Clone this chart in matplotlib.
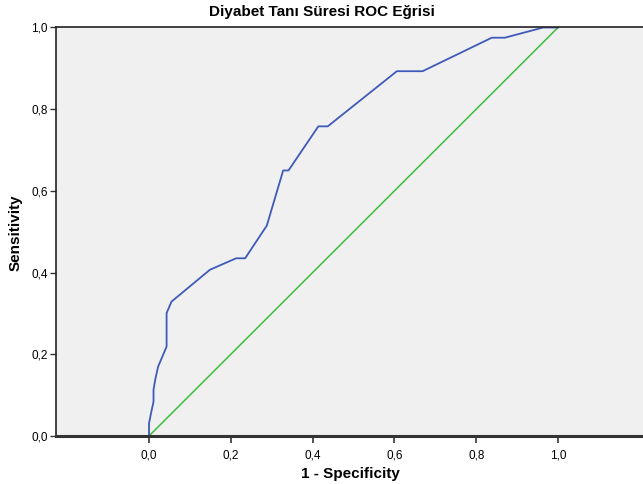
import numpy as np
import matplotlib.pyplot as plt

plt.rcParams['font.family'] = ['Liberation Sans', 'DejaVu Sans']

# ROC curve points (1 - specificity, sensitivity)
fpr = [0.0, 0.0, 0.005, 0.011, 0.011, 0.015, 0.022, 0.043, 0.043, 0.055,
       0.149, 0.213, 0.235, 0.288, 0.328, 0.341, 0.414, 0.437, 0.606,
       0.669, 0.838, 0.870, 0.964, 1.0]
tpr = [0.0, 0.031, 0.056, 0.084, 0.113, 0.137, 0.169, 0.219, 0.301, 0.329,
       0.407, 0.435, 0.435, 0.515, 0.650, 0.650, 0.758, 0.758, 0.893,
       0.893, 0.975, 0.975, 1.0, 1.0]
ref_line = [0.0, 1.0]

xticks = [0.0, 0.2, 0.4, 0.6, 0.8, 1.0]
yticks = [0.0, 0.2, 0.4, 0.6, 0.8, 1.0]


def comma(v):
    return f'{v:.1f}'.replace('.', ',')


fig = plt.figure(figsize=(6.43, 4.84), dpi=100)
ax = fig.add_axes([0.0871, 0.0992, 0.9129, 0.8440])
ax.set_facecolor('#F0F0F0')

ax.plot(ref_line, ref_line, color='#3DBB3D', linewidth=1.1)
ax.plot(fpr, tpr, color='#3F5AB8', linewidth=1.3)

ax.set_xlim(-0.2274, 1.2078)
ax.set_ylim(0, 1)
ax.set_xticks(xticks)
ax.set_xticklabels([comma(v) for v in xticks], fontsize=8.5)
ax.set_yticks(yticks)
ax.set_yticklabels([comma(v) for v in yticks], fontsize=8.5)
ax.tick_params(axis='x', direction='out', length=5, width=1.2, color='#333333', pad=5)
ax.tick_params(axis='y', direction='out', length=4, width=1, color='#333333', pad=2)

for side in ['top', 'left']:
    ax.spines[side].set_color('#222222')
    ax.spines[side].set_linewidth(1.2)
ax.spines['bottom'].set_color('#333333')
ax.spines['bottom'].set_linewidth(2.2)
ax.spines['right'].set_visible(False)

fig.text(0.545, 0.021, '1 - Specificity', ha='center', va='center',
         fontsize=11, fontweight='bold')
fig.text(0.025, 0.52, 'Sensitivity', ha='center', va='center', rotation=90,
         fontsize=11, fontweight='bold')
fig.text(0.5, 0.975, 'Diyabet Tanı Süresi ROC Eğrisi', ha='center', va='center',
         fontsize=11, fontweight='bold')

plt.savefig('out.png', dpi=100)
